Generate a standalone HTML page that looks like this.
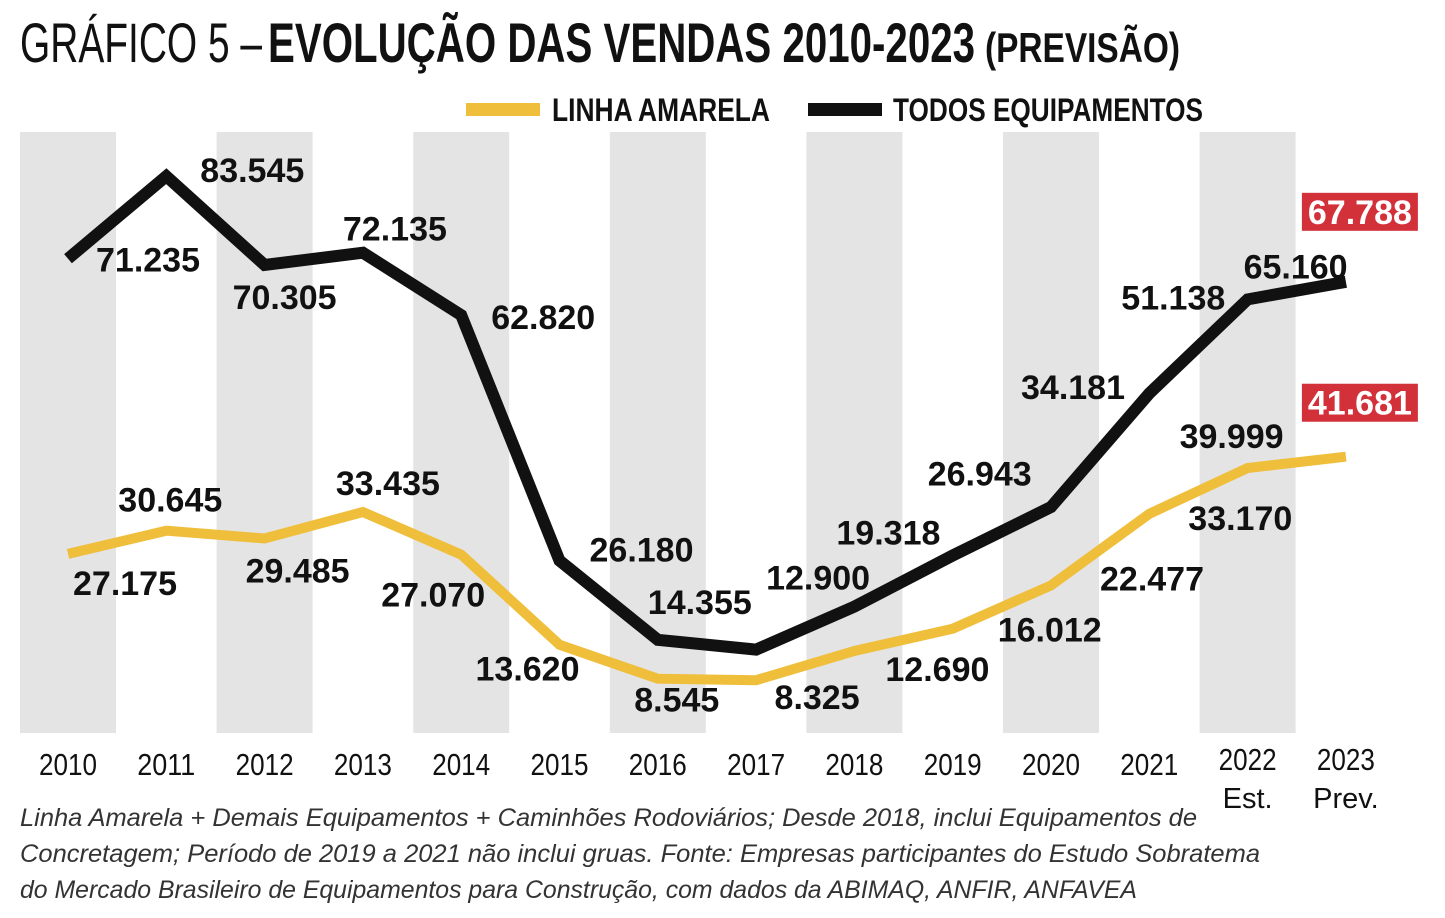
<!DOCTYPE html>
<html><head><meta charset="utf-8"><style>
html,body{margin:0;padding:0;background:#fff}
svg{display:block}
.n{font-family:"Liberation Sans Narrow","Liberation Sans",sans-serif}
.lab{font-family:"Liberation Sans",sans-serif;font-weight:bold;font-size:34px}
</style></head><body>
<svg id="chart" width="1445" height="918" viewBox="0 0 1445 918" xmlns="http://www.w3.org/2000/svg">
<text x="20" y="62" class="n" font-size="56" fill="#111"><tspan textLength="242" lengthAdjust="spacingAndGlyphs">GRÁFICO 5 –</tspan><tspan x="268" y="62" font-weight="bold" textLength="707" lengthAdjust="spacingAndGlyphs">EVOLUÇÃO DAS VENDAS 2010-2023</tspan><tspan x="985" y="62" font-weight="bold" font-size="42" textLength="195" lengthAdjust="spacingAndGlyphs">(PREVISÃO)</tspan></text>
<g>
<rect x="466" y="103" width="74" height="13" fill="#EFBE3A"/>
<text x="552" y="121" class="n" font-weight="bold" font-size="32" fill="#111" textLength="218" lengthAdjust="spacingAndGlyphs">LINHA AMARELA</text>
<rect x="808" y="103" width="74" height="13" fill="#111"/>
<text x="893" y="121" class="n" font-weight="bold" font-size="32" fill="#111" textLength="310" lengthAdjust="spacingAndGlyphs">TODOS EQUIPAMENTOS</text>
</g>
<g id="bands"></g>
<g id="lines"></g>
<g id="labels"></g>
<g id="xaxis"></g>
<text font-family="Liberation Sans, sans-serif" font-style="italic" font-size="25" fill="#333">
<tspan x="20" y="826" textLength="1177" lengthAdjust="spacingAndGlyphs">Linha Amarela + Demais Equipamentos + Caminhões Rodoviários; Desde 2018, inclui Equipamentos de</tspan>
<tspan x="20" y="862" textLength="1240" lengthAdjust="spacingAndGlyphs">Concretagem; Período de 2019 a 2021 não inclui gruas. Fonte: Empresas participantes do Estudo Sobratema</tspan>
<tspan x="20" y="898" textLength="1117" lengthAdjust="spacingAndGlyphs">do Mercado Brasileiro de Equipamentos para Construção, com dados da ABIMAQ, ANFIR, ANFAVEA</tspan>
</text>
</svg>
<script>
const years = ["2010","2011","2012","2013","2014","2015","2016","2017","2018","2019","2020","2021","2022","2023"];
const subLabels = ["","","","","","","","","","","","","Est.","Prev."];
const todos = [71235,83545,70305,72135,62820,26180,14355,12900,19318,26943,34181,51138,65160,67788];
const amarela = [27175,30645,29485,33435,27070,13620,8545,8325,12690,16012,22477,33170,39999,41681];
const todosText = ["71.235","83.545","70.305","72.135","62.820","26.180","14.355","12.900","19.318","26.943","34.181","51.138","65.160","67.788"];
const amarelaText = ["27.175","30.645","29.485","33.435","27.070","13.620","8.545","8.325","12.690","16.012","22.477","33.170","39.999","41.681"];

const NS="http://www.w3.org/2000/svg";
function px(i){return 68+i*98.3;}
function py(v){return 736-v*0.0067;}
function mk(tag,attrs,parent){const e=document.createElementNS(NS,tag);for(const k in attrs)e.setAttribute(k,attrs[k]);parent.appendChild(e);return e;}
const bands=document.getElementById('bands'),lines=document.getElementById('lines'),labels=document.getElementById('labels'),xaxis=document.getElementById('xaxis');
years.forEach((y,i)=>{
  if(i%2===0){
    const r=mk('rect',{x:px(i)-48,y:132,width:96,height:601,fill:'#E4E4E4'},bands);
    
    
  }
  const t=mk('text',{x:px(i)-29,y:(i>=12?770:775),'class':'n','font-size':'31',fill:'#111',textLength:'58',lengthAdjust:'spacingAndGlyphs'},xaxis);
  t.textContent=y;
  
  
  if(subLabels[i]){
    const s=mk('text',{x:px(i),y:808,'text-anchor':'middle','class':'n','font-size':'29',fill:'#111'},xaxis);
    s.textContent=subLabels[i];
    
    
  }
});
function line(vals,color,w,name){
  const d=vals.map((v,i)=>(i?'L':'M')+px(i).toFixed(1)+' '+py(v).toFixed(1)).join(' ');
  const p=mk('path',{d:d,fill:'none',stroke:color,'stroke-width':w,'stroke-linejoin':'miter','stroke-miterlimit':'3'},lines);
  
  
}
line(amarela,'#EFBE3A',10,'line-linha-amarela');
line(todos,'#111',12,'line-todos-equipamentos');
const bOff=[[80,1],[86,-6],[20,32],[32,-24],[82,2],[82,-11],[42,-38],[62,-72],[34,-74],[27,-82],[22,-120],[24,-96],[48,-33],[14,-70]];
const yOff=[[57,29],[4,-31],[33,32],[25,-29],[-28,40],[-32,24],[19,21],[61,17],[83,18],[97,1],[101,-7],[91,4],[-16,-32],[14,-54]];
function labs(vals,texts,off,name){
  vals.forEach((v,i)=>{
    const cx=px(i)+off[i][0], cy=py(v)+off[i][1];
    const last=i===vals.length-1;
    if(last){
      const r=mk('rect',{x:cx-58,y:cy-19,width:116,height:38,fill:'#D3313A'},labels);
      
      
    }
    const t=mk('text',{x:cx,y:cy+12,'text-anchor':'middle','class':'lab'},labels);
    t.style.fill = last ? '#ffffff' : '#111111';
    t.textContent=texts[i];
    
    
  });
}
labs(todos,todosText,bOff,'todos');
labs(amarela,amarelaText,yOff,'amarela');
</script>
</body></html>
